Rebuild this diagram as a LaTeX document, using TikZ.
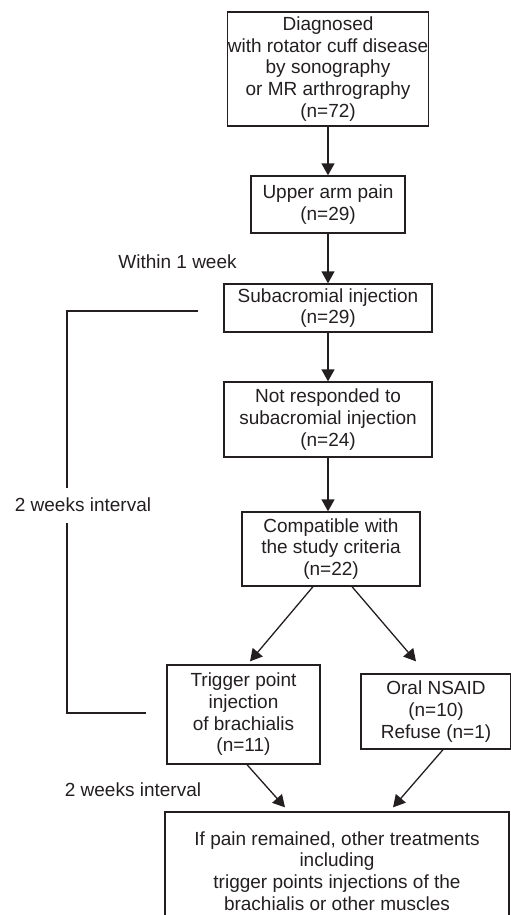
\documentclass[tikz,border=0pt]{standalone}
\usepackage{fontspec}
\setmainfont{Liberation Sans}
\usetikzlibrary{arrows.meta,calc}
\definecolor{ink}{HTML}{231F20}
\begin{document}
\begin{tikzpicture}[x=1pt,y=-1pt,
  every node/.style={font=\fontsize{19}{21.7}\selectfont, text=ink},
  box/.style={draw=ink, line width=1.3pt, rectangle, inner sep=0pt, align=center},
  arr/.style={draw=ink, line width=1.3pt, -{Triangle[width=13pt,length=12pt]}},
  ln/.style={draw=ink, line width=1.3pt},
  lbl/.style={inner sep=0pt}]
\useasboundingbox (0,0) rectangle (511,915);
\node[box, minimum width=198pt, minimum height=114pt] (b1) at (328,69)
  {Diagnosed\\with rotator cuff disease\\by sonography\\or MR arthrography\\(n=72)};
\node[box, minimum width=154pt, minimum height=57pt] (b2) at (328,204.5)
  {Upper arm pain\\(n=29)};
\node[box, minimum width=208pt, minimum height=48pt] (b3) at (328,308)
  {Subacromial injection\\(n=29)};
\node[box, minimum width=208pt, minimum height=75pt] (b4) at (328,419.5)
  {Not responded to\\subacromial injection\\(n=24)};
\node[box, minimum width=178pt, minimum height=74pt] (b5) at (331,549)
  {Compatible with\\the study criteria\\(n=22)};
\node[box, minimum width=153pt, minimum height=99pt] (b6) at (243.5,714.5)
  {Trigger point\\injection\\of brachialis\\(n=11)};
\node[box, minimum width=150pt, minimum height=75pt] (b7) at (436,711.5)
  {Oral NSAID\\(n=10)\\Refuse (n=1)};
\node[box, minimum width=344pt, minimum height=118pt] (b8) at (337,871)
  {If pain remained, other treatments\\including\\trigger points injections of the\\brachialis or other muscles};

\node[lbl] (w1) at (177.5,262) {Within 1 week};
\node[lbl] (w2) at (83,505) {2 weeks interval};
\node[lbl] (w3) at (133,790) {2 weeks interval};

\draw[arr] (b1.south) -- (b2.north);
\draw[arr] (b2.south) -- (b3.north);
\draw[arr] (b3.south) -- (b4.north);
\draw[arr] (b4.south) -- (b4.south |- b5.north);

\coordinate (d1s) at ([xshift=-18pt]b5.south);
\coordinate (d1e) at ([xshift=6.5pt,yshift=3pt]b6.north);
\coordinate (d2s) at ([xshift=21pt]b5.south);
\coordinate (d2e) at ([xshift=-20pt,yshift=12pt]b7.north);
\coordinate (d3s) at ([xshift=3.5pt]b6.south);
\coordinate (d3e) at ([xshift=-52pt,yshift=4pt]b8.north);
\coordinate (d4s) at ([xshift=7pt]b7.south);
\coordinate (d4e) at ([xshift=56pt,yshift=4pt]b8.north);
\draw[arr] (d1s) -- (d1e);
\draw[arr] (d2s) -- (d2e);
\draw[arr] (d3s) -- (d3e);
\draw[arr] (d4s) -- (d4e);

\coordinate (k1) at ([xshift=-25pt,yshift=-3pt]b3.west);
\coordinate (k2) at ([xshift=-20pt,yshift=1.5pt]b6.west);
\coordinate (kt) at (67,488);
\coordinate (kb) at (67,523);
\draw[ln] (k1) -| (kt);
\draw[ln] (kb) |- (k2);
\end{tikzpicture}
\end{document}
